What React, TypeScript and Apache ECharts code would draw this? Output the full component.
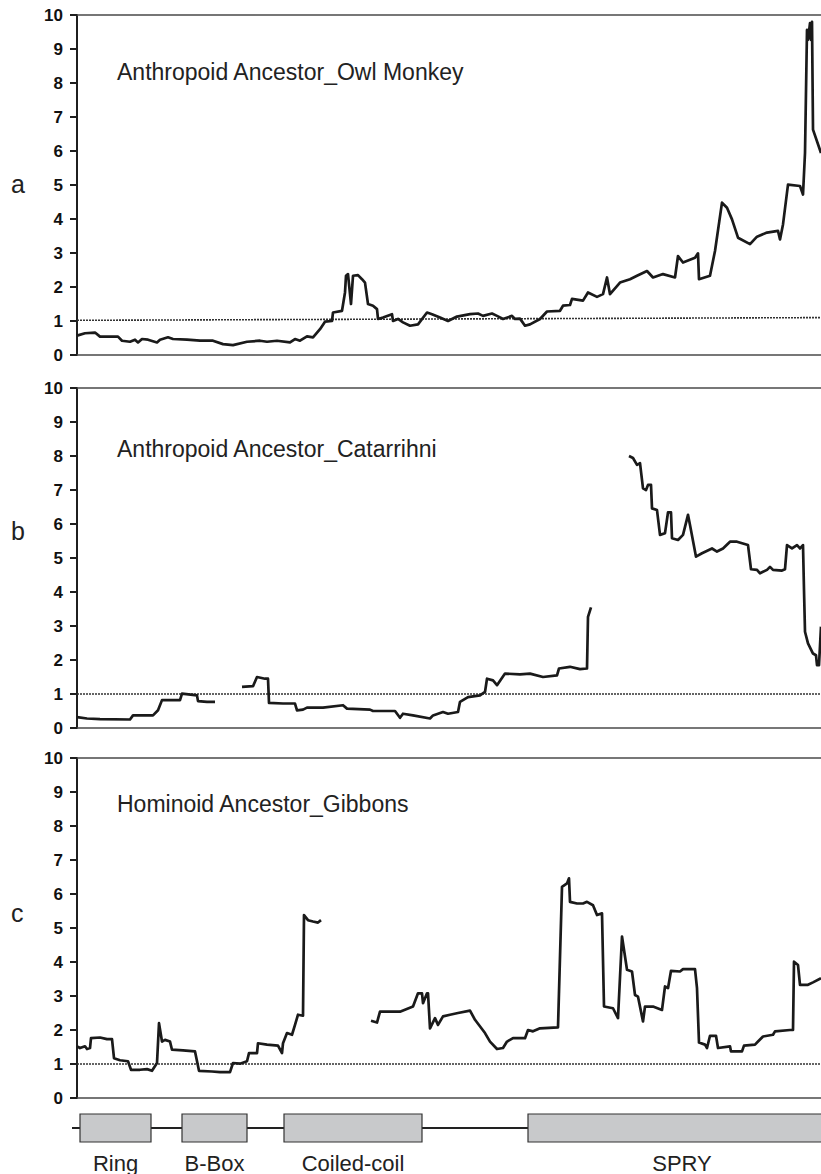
import React, { useEffect, useRef } from "react";
import * as echarts from "echarts";

// x = position along the protein (arbitrary units, 0..744 visible), y = ratio
const xMax = 744;

const panelLetters = ["a", "b", "c"];
const panelTitles = [
  "Anthropoid Ancestor_Owl Monkey",
  "Anthropoid Ancestor_Catarrihni",
  "Hominoid Ancestor_Gibbons",
];
const yTicks = [0, 1, 2, 3, 4, 5, 6, 7, 8, 9, 10];

// Panel a
const owlMonkey: number[][] = [
  [0, 0.57], [8, 0.64], [18, 0.66], [23, 0.54], [41, 0.54], [45, 0.42], [53, 0.39], [58, 0.45],
  [61, 0.37], [65, 0.47], [71, 0.45], [80, 0.37], [83, 0.45], [91, 0.52], [96, 0.47], [110, 0.45],
  [123, 0.42], [136, 0.42], [146, 0.32], [156, 0.29], [170, 0.39], [183, 0.42], [190, 0.39],
  [200, 0.42], [213, 0.37], [218, 0.47], [223, 0.42], [230, 0.55], [236, 0.52], [243, 0.76],
  [248, 0.98], [255, 1.0], [256, 1.25], [265, 1.3], [268, 1.84], [269, 2.33], [271, 2.38],
  [274, 1.5], [276, 2.33], [281, 2.35], [285, 2.23], [288, 2.13], [291, 1.5], [296, 1.45],
  [300, 1.35], [301, 1.06], [306, 1.1], [315, 1.2], [316, 1.0], [321, 1.06], [326, 0.96],
  [333, 0.86], [341, 0.9], [350, 1.25], [355, 1.2], [363, 1.1], [371, 1.0], [380, 1.13],
  [393, 1.2], [401, 1.22], [406, 1.15], [415, 1.22], [420, 1.15], [426, 1.06], [435, 1.15],
  [438, 1.06], [443, 1.07], [448, 0.86], [453, 0.9], [463, 1.06], [470, 1.28], [483, 1.3],
  [486, 1.45], [493, 1.47], [495, 1.65], [506, 1.6], [511, 1.84], [520, 1.71], [526, 1.79],
  [530, 2.28], [533, 1.79], [543, 2.13], [553, 2.23], [560, 2.33], [570, 2.47], [576, 2.28],
  [586, 2.38], [598, 2.28], [601, 2.91], [606, 2.72], [618, 2.86], [621, 2.99], [622, 2.23],
  [633, 2.33], [638, 3.06], [645, 4.48], [650, 4.33], [655, 3.99], [661, 3.45], [673, 3.26],
  [680, 3.48], [690, 3.6], [701, 3.65], [703, 3.4], [706, 3.84], [711, 5.01], [723, 4.97],
  [726, 4.72], [728, 5.94], [730, 9.56], [731, 9.27], [733, 9.76], [734, 9.27], [735, 9.8],
  [736, 6.63], [744, 5.94],
];
const owlThreshold: number[][] = [[0, 1.02], [744, 1.1]];

// Panel b (three separate stretches)
const catarrhini1: number[][] = [
  [0, 0.32], [10, 0.28], [23, 0.26], [53, 0.25], [56, 0.37], [76, 0.37], [81, 0.52], [85, 0.82],
  [103, 0.82], [105, 1.01], [120, 0.96], [121, 0.79], [130, 0.77], [138, 0.77],
];
const catarrhini2: number[][] = [
  [165, 1.21], [176, 1.23], [180, 1.5], [188, 1.45], [191, 1.45], [192, 0.74], [206, 0.72],
  [218, 0.72], [220, 0.52], [226, 0.54], [230, 0.6], [246, 0.6], [266, 0.67], [270, 0.57],
  [293, 0.54], [296, 0.5], [318, 0.5], [323, 0.3], [326, 0.42], [336, 0.37], [353, 0.28],
  [356, 0.37], [366, 0.47], [371, 0.42], [381, 0.47], [383, 0.77], [391, 0.91], [403, 0.96],
  [408, 1.06], [410, 1.45], [416, 1.4], [420, 1.26], [428, 1.6], [443, 1.58], [453, 1.6],
  [466, 1.5], [480, 1.55], [482, 1.75], [493, 1.8], [503, 1.73], [510, 1.75], [511, 3.27],
  [514, 3.55],
];
const catarrhini3: number[][] = [
  [552, 8.0], [556, 7.94], [560, 7.74], [563, 7.79], [566, 7.05], [569, 7.0], [571, 7.15],
  [574, 7.15], [575, 6.46], [580, 6.41], [583, 5.68], [588, 5.73], [591, 6.34], [594, 6.34],
  [595, 5.58], [601, 5.53], [606, 5.68], [611, 6.27], [613, 5.97], [619, 5.04], [625, 5.14],
  [635, 5.28], [640, 5.19], [646, 5.28], [653, 5.48], [660, 5.48], [671, 5.38], [674, 4.67],
  [680, 4.65], [683, 4.55], [690, 4.65], [693, 4.74], [696, 4.65], [705, 4.63], [708, 4.67],
  [710, 5.38], [715, 5.28], [720, 5.38], [723, 5.28], [726, 5.38], [727, 4.06], [728, 2.83],
  [731, 2.49], [736, 2.19], [739, 2.14], [740, 1.85], [742, 1.85], [744, 2.98],
];
const catarrhiniThreshold: number[][] = [[0, 1.0], [744, 1.0]];

// Panel c (two stretches)
const gibbons1: number[][] = [
  [0, 1.52], [3, 1.47], [8, 1.52], [10, 1.44], [13, 1.47], [14, 1.76], [23, 1.78], [30, 1.73],
  [35, 1.73], [37, 1.17], [43, 1.11], [51, 1.08], [54, 0.83], [63, 0.83], [70, 0.85], [75, 0.8],
  [80, 1.03], [82, 2.2], [85, 1.66], [88, 1.71], [93, 1.66], [95, 1.42], [106, 1.4], [118, 1.37],
  [122, 0.8], [135, 0.78], [143, 0.76], [153, 0.76], [156, 1.03], [163, 1.01], [170, 1.08],
  [172, 1.32], [180, 1.32], [181, 1.61], [190, 1.57], [201, 1.54], [205, 1.32], [206, 1.61],
  [210, 1.91], [215, 1.86], [218, 2.15], [221, 2.45], [226, 2.42], [227, 5.38], [231, 5.23],
  [236, 5.19], [241, 5.16], [244, 5.23],
];
const gibbons2: number[][] = [
  [294, 2.27], [300, 2.22], [303, 2.54], [313, 2.54], [323, 2.54], [336, 2.69], [341, 3.08],
  [345, 3.08], [346, 2.79], [350, 3.08], [351, 3.08], [353, 2.05], [358, 2.35], [361, 2.15],
  [366, 2.4], [373, 2.45], [381, 2.5], [393, 2.57], [398, 2.3], [408, 1.91], [413, 1.66],
  [420, 1.44], [426, 1.47], [430, 1.66], [436, 1.76], [448, 1.76], [451, 2.0], [456, 1.96],
  [463, 2.05], [481, 2.08], [485, 6.21], [490, 6.31], [492, 6.46], [493, 5.77], [500, 5.72],
  [506, 5.72], [510, 5.77], [516, 5.67], [520, 5.38], [525, 5.43], [527, 2.69], [536, 2.64],
  [541, 2.35], [545, 4.75], [550, 3.77], [555, 3.72], [558, 3.03], [561, 2.98], [566, 2.25],
  [568, 2.69], [576, 2.69], [585, 2.59], [588, 3.28], [591, 3.23], [594, 3.74], [603, 3.72],
  [606, 3.79], [618, 3.79], [620, 3.23], [622, 1.63], [628, 1.57], [630, 1.47], [633, 1.83],
  [639, 1.83], [641, 1.47], [653, 1.52], [654, 1.37], [665, 1.37], [667, 1.54], [678, 1.57],
  [681, 1.66], [686, 1.81], [696, 1.86], [698, 1.96], [713, 2.0], [716, 2.0], [717, 4.01],
  [721, 3.91], [723, 3.33], [731, 3.33], [736, 3.4], [744, 3.52],
];
const gibbonsThreshold: number[][] = [[0, 1.0], [744, 1.0]];

// Protein domains
const domainNames = ["Ring", "B-Box", "Coiled-coil", "SPRY"];
const domainStarts = [3, 105, 207, 451];
const domainEnds = [74, 170, 345, 759];
const linkerLine: number[][] = [[-5, 0.5], [451, 0.5]];

const FONT = "'Liberation Sans', Arial, Helvetica, sans-serif";

export default function App() {
  const ref = useRef<HTMLDivElement>(null);

  useEffect(() => {
    document.body.style.margin = "0";
    if (!ref.current) return;
    const chart = echarts.init(ref.current, null, { renderer: "svg" });

    const gridTops = [15, 388, 758];
    const gridH = 340;
    const grids: any[] = gridTops.map((t) => ({ left: 77, right: 0, top: t, height: gridH }));
    grids.push({ left: 0, right: 0, top: 1114, height: 28 });

    const xAxes: any[] = [];
    const yAxes: any[] = [];
    [0, 1, 2].forEach((g) => {
      ["bottom", "top"].forEach((pos) => {
        xAxes.push({
          type: "value",
          gridIndex: g,
          position: pos,
          min: 0,
          max: xMax,
          axisLine: { show: true, onZero: false, lineStyle: { color: "#4a4a4a", width: 1.6 } },
          axisTick: { show: false },
          axisLabel: { show: false },
          splitLine: { show: false },
        });
      });
      yAxes.push({
        type: "value",
        gridIndex: g,
        min: 0,
        max: 10,
        interval: 1,
        axisLine: { show: true, lineStyle: { color: "#1f1f1f", width: 2 } },
        axisTick: { show: true, length: 7, lineStyle: { color: "#1f1f1f", width: 2 } },
        axisLabel: {
          margin: 14,
          color: "#111",
          fontWeight: 700,
          fontSize: 17,
          fontFamily: FONT,
          formatter: (v: number) => (yTicks.includes(v) ? String(v) : ""),
        },
        splitLine: { show: false },
      });
    });
    xAxes.push({
      type: "value",
      gridIndex: 3,
      min: -77,
      max: xMax,
      show: false,
    });
    yAxes.push({ type: "value", gridIndex: 3, min: 0, max: 1, show: false });

    const lineSeries = (data: number[][], g: number) => ({
      type: "line",
      xAxisIndex: g * 2,
      yAxisIndex: g,
      data,
      showSymbol: false,
      symbol: "none",
      lineStyle: { color: "#1a1a1a", width: 2.7, join: "round" },
      z: 3,
    });
    const thresholdSeries = (data: number[][], g: number) => ({
      type: "line",
      xAxisIndex: g * 2,
      yAxisIndex: g,
      data,
      showSymbol: false,
      symbol: "none",
      lineStyle: { color: "#333", width: 1.6, type: [2, 1] },
      z: 2,
    });

    const series: any[] = [
      thresholdSeries(owlThreshold, 0),
      lineSeries(owlMonkey, 0),
      thresholdSeries(catarrhiniThreshold, 1),
      lineSeries(catarrhini1, 1),
      lineSeries(catarrhini2, 1),
      lineSeries(catarrhini3, 1),
      thresholdSeries(gibbonsThreshold, 2),
      lineSeries(gibbons1, 2),
      lineSeries(gibbons2, 2),
      {
        type: "line",
        xAxisIndex: 6,
        yAxisIndex: 3,
        data: linkerLine,
        showSymbol: false,
        symbol: "none",
        lineStyle: { color: "#222", width: 2 },
        z: 1,
      },
      {
        type: "custom",
        xAxisIndex: 6,
        yAxisIndex: 3,
        clip: false,
        z: 2,
        data: domainNames.map((n, i) => [domainStarts[i], domainEnds[i], i]),
        renderItem: (params: any, api: any) => {
          const s = api.value(0);
          const e = api.value(1);
          const idx = api.value(2);
          const p0 = api.coord([s, 1]);
          const p1 = api.coord([e, 0]);
          return {
            type: "group",
            children: [
              {
                type: "rect",
                shape: { x: p0[0], y: p0[1], width: p1[0] - p0[0], height: p1[1] - p0[1] },
                style: { fill: "#c8c9cb", stroke: "#333", lineWidth: 1.2 },
              },
              {
                type: "text",
                style: {
                  text: domainNames[idx],
                  x: (p0[0] + p1[0]) / 2,
                  y: p1[1] + 21,
                  align: "center",
                  verticalAlign: "middle",
                  fontSize: 22,
                  fontFamily: FONT,
                  fill: "#222",
                },
              },
            ],
          };
        },
      },
    ];

    const titleCenters = [73, 450, 805];
    const letterCenters = [186, 533, 915];
    const graphic: any[] = [];
    [0, 1, 2].forEach((i) => {
      graphic.push({
        type: "text",
        left: 117,
        top: titleCenters[i] - 13,
        style: { text: panelTitles[i], fontSize: 23, fontFamily: FONT, fill: "#222" },
      });
      graphic.push({
        type: "text",
        left: 11,
        top: letterCenters[i] - 15,
        style: { text: panelLetters[i], fontSize: 25, fontFamily: FONT, fill: "#222" },
      });
    });

    chart.setOption({
      animation: false,
      backgroundColor: "#fff",
      grid: grids,
      xAxis: xAxes,
      yAxis: yAxes,
      series,
      graphic,
    });

    return () => chart.dispose();
  }, []);

  return <div ref={ref} style={{ width: 821, height: 1174 }} />;
}
